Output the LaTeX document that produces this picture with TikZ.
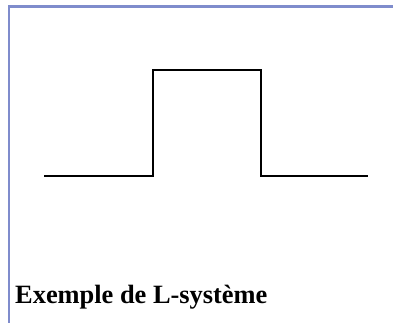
\documentclass[tikz,border=0pt]{standalone}
\usepackage{fontspec}
\setmainfont{Liberation Serif}
\definecolor{frame}{HTML}{7F8CCC}
\begin{document}
\begin{tikzpicture}[x=1pt,y=-1pt,
  framestyle/.style={draw=frame,line width=2.4pt},
  wave/.style={draw=black,line width=2pt,line join=miter}]
\useasboundingbox (0,0) rectangle (393,323);
\fill[white] (0,0) rectangle (393,323);
\draw[framestyle] (9,323) -- (9,6.5) -- (393,6.5);
\draw[wave] (44,176) -- (153,176) -- (153,70) -- (261,70) -- (261,176) -- (368,176);
\node[anchor=base west,inner sep=0pt,font=\bfseries\fontsize{26.4}{30}\selectfont] (cap) at (15,303) {Exemple de L-système};
\end{tikzpicture}
\end{document}
